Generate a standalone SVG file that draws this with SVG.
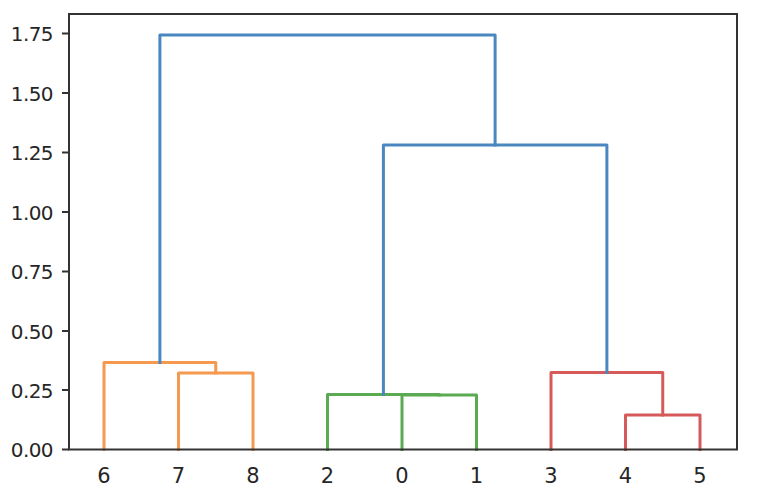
<svg xmlns="http://www.w3.org/2000/svg" width="763" height="495" viewBox="0 0 763 495">
<style>
.bg{fill:#ffffff}
.frame{fill:none;stroke:#333333;stroke-width:2}
.tick{stroke:#333333;stroke-width:2}
.lbl{font-family:"DejaVu Sans",sans-serif;fill:#262626}
.ylbl{text-anchor:end;font-size:20px;letter-spacing:-0.6px}
.xlbl{text-anchor:middle;font-size:21px}
.link{fill:none;stroke-width:3;stroke-linejoin:round;stroke-linecap:square}
.c0{stroke:#4a87c0}
.c1{stroke:#f5994f}
.c2{stroke:#5aaa52}
.c3{stroke:#d65a5a}
</style>
<rect class="bg" x="0" y="0" width="763" height="495"/>
<g id="connectors">
  <polyline id="l78" class="link c1" points="178.5,449.5 178.5,373 253,373 253,449.5"/>
  <polyline id="l6_78" class="link c1" points="104,449.5 104,362.5 215.75,362.5 215.75,373"/>
  <polyline id="l01" class="link c2" points="402,449.5 402,395 476.5,395 476.5,449.5"/>
  <polyline id="l2_01" class="link c2" points="327.5,449.5 327.5,394.5 439.25,394.5 439.25,395"/>
  <polyline id="l45" class="link c3" points="625.5,449.5 625.5,415 700,415 700,449.5"/>
  <polyline id="l3_45" class="link c3" points="551,449.5 551,372.5 662.75,372.5 662.75,415"/>
  <polyline id="lmid" class="link c0" points="383.4,394.5 383.4,145 606.9,145 606.9,372.5"/>
  <polyline id="ltop" class="link c0" points="159.9,362.5 159.9,35 495.1,35 495.1,145"/>
</g>
<g id="axes">
  <rect class="frame" x="69" y="14" width="668" height="435.5"/>
  <line class="tick" x1="62" y1="449.5" x2="69" y2="449.5"/>
  <line class="tick" x1="62" y1="390" x2="69" y2="390"/>
  <line class="tick" x1="62" y1="331" x2="69" y2="331"/>
  <line class="tick" x1="62" y1="271.5" x2="69" y2="271.5"/>
  <line class="tick" x1="62" y1="212" x2="69" y2="212"/>
  <line class="tick" x1="62" y1="152.5" x2="69" y2="152.5"/>
  <line class="tick" x1="62" y1="93" x2="69" y2="93"/>
  <line class="tick" x1="62" y1="33.5" x2="69" y2="33.5"/>
</g>
<g id="yticklabels">
  <text class="lbl ylbl" x="53" y="457">0.00</text>
  <text class="lbl ylbl" x="53" y="397.5">0.25</text>
  <text class="lbl ylbl" x="53" y="338.5">0.50</text>
  <text class="lbl ylbl" x="53" y="279">0.75</text>
  <text class="lbl ylbl" x="53" y="219.5">1.00</text>
  <text class="lbl ylbl" x="53" y="160">1.25</text>
  <text class="lbl ylbl" x="53" y="100.5">1.50</text>
  <text class="lbl ylbl" x="53" y="41">1.75</text>
</g>
<g id="leaf6"><text class="lbl xlbl" x="104" y="483">6</text></g>
<g id="leaf7"><text class="lbl xlbl" x="178.5" y="483">7</text></g>
<g id="leaf8"><text class="lbl xlbl" x="253" y="483">8</text></g>
<g id="leaf2"><text class="lbl xlbl" x="327.5" y="483">2</text></g>
<g id="leaf0"><text class="lbl xlbl" x="402" y="483">0</text></g>
<g id="leaf1"><text class="lbl xlbl" x="476.5" y="483">1</text></g>
<g id="leaf3"><text class="lbl xlbl" x="551" y="483">3</text></g>
<g id="leaf4"><text class="lbl xlbl" x="625.5" y="483">4</text></g>
<g id="leaf5"><text class="lbl xlbl" x="700" y="483">5</text></g>
</svg>
